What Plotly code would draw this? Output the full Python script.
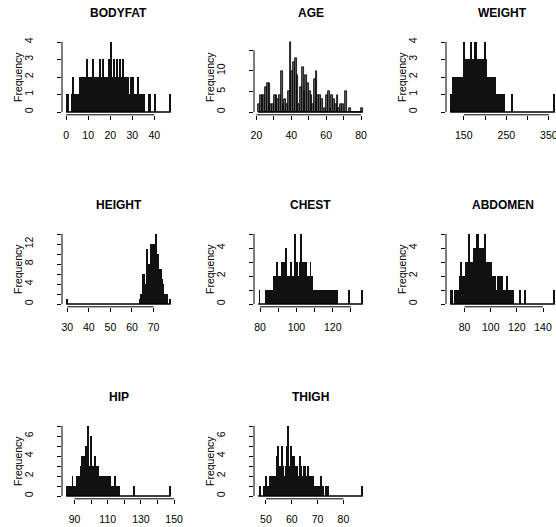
import numpy as np
import plotly.graph_objects as go

W, H = 556, 527

# ---------------- data (bin counts) ----------------
titles = ["BODYFAT", "AGE", "WEIGHT", "HEIGHT", "CHEST", "ABDOMEN", "HIP", "THIGH"]

bodyfat_start, bodyfat_width = 0.0, 0.5
bodyfat_counts = [1, 1, 0, 0, 0, 1, 2, 1, 1, 1, 1, 1, 2, 1, 2, 2, 1, 2, 3, 2,
                  2, 1, 2, 2, 3, 2, 1, 2, 2, 2, 3, 2, 2, 3, 2, 2, 1, 2, 3, 2,
                  4, 2, 2, 3, 2, 2, 3, 2, 3, 2, 2, 3, 2, 2, 1, 2, 2, 1, 2, 1,
                  2, 1, 1, 1, 1, 2, 1, 1, 1, 1, 1, 0, 0, 0, 0, 1, 1, 0, 0, 0,
                  1, 0, 0, 0, 0, 0, 0, 0, 0, 0, 0, 0, 0, 0, 1]

age_values = list(range(22, 82))
age_counts = [2, 4, 4, 4, 6, 7, 7, 2, 2, 4, 4, 3, 4, 10, 2, 3, 2, 5, 17, 10,
              12, 13, 9, 2, 6, 11, 5, 9, 7, 5, 4, 2, 8, 10, 4, 4, 3, 0, 1, 4,
              5, 1, 4, 3, 2, 4, 1, 2, 2, 0, 5, 0, 1, 0, 0, 0, 0, 0, 0, 1]
age_width = 1.0

weight_start, weight_width = 118.0, 2.0
weight_counts = [1, 1, 1, 2, 1, 2, 2, 1, 2, 2, 2, 1, 2, 2, 2, 2, 4, 3, 3, 3,
                 2, 3, 3, 3, 4, 2, 3, 2, 4, 3, 4, 3, 3, 2, 3, 3, 2, 3, 3, 3,
                 4, 3, 3, 2, 2, 2, 2, 1, 2, 2, 2, 2, 2, 1, 1, 1, 1, 1, 1, 1,
                 0, 1, 1, 1, 0, 0, 0, 0, 0, 0, 0, 0, 1, 0, 0, 0, 0, 0, 0, 0,
                 0, 0, 0, 0, 0, 0, 0, 0, 0, 0, 0, 0, 0, 0, 0, 0, 0, 0, 0, 0,
                 0, 0, 0, 0, 0, 0, 0, 0, 0, 0, 0, 0, 0, 0, 0, 0, 0, 0, 0, 0,
                 0, 0, 1]

height_start, height_width = 29.5, 0.5
height_counts = [1] + [0] * 67 + [1, 2, 2, 6, 6, 4, 11, 7, 8, 7, 12, 10, 12, 12,
                                  9, 14, 10, 10, 7, 7, 5, 4, 2, 2, 1, 2, 0, 0, 1]

chest_start, chest_width = 79.0, 0.5
chest_counts = [0, 1, 0, 0, 0, 0, 0, 0, 1, 0, 1, 1, 1, 1, 1, 1, 1, 2, 1, 2,
                3, 2, 2, 1, 2, 2, 3, 3, 2, 3, 4, 2, 1, 2, 2, 2, 3, 2, 2, 2,
                5, 2, 3, 1, 2, 3, 3, 5, 2, 3, 3, 2, 3, 2, 2, 2, 2, 3, 2, 2,
                1, 1, 1, 0, 1, 1, 1, 1, 0, 1, 1, 1, 1, 0, 1, 1, 1, 1, 1, 1,
                0, 1, 1, 1, 1, 0, 1, 0, 0, 0, 0, 0, 0, 0, 0, 0, 0, 0, 0, 1,
                0, 0, 0, 0, 0, 0, 0, 0, 0, 0, 0, 0, 0, 0, 1]

abdomen_start, abdomen_width = 69.0, 1.0
abdomen_counts = [1, 1, 0, 1, 1, 1, 1, 2, 3, 2, 2, 2, 3, 3, 5, 3, 3, 3, 4, 4,
                  5, 5, 4, 4, 3, 4, 5, 3, 3, 3, 3, 3, 2, 2, 2, 1, 2, 1, 2, 2,
                  1, 1, 1, 2, 1, 1, 1, 1, 1, 0, 0, 0, 0, 1, 0, 0, 0, 1, 0, 0,
                  0, 0, 0, 0, 0, 0, 0, 0, 0, 0, 0, 0, 0, 0, 0, 0, 0, 0, 0, 1]

hip_start, hip_width = 85.0, 0.5
hip_counts = [1, 0, 1, 1, 1, 1, 1, 2, 1, 1, 1, 1, 1, 2, 2, 1, 2, 3, 2, 4,
              3, 4, 3, 5, 3, 3, 7, 3, 3, 6, 5, 3, 3, 2, 4, 3, 2, 3, 3, 2,
              2, 1, 2, 2, 1, 2, 2, 1, 2, 1, 2, 1, 2, 1, 1, 1, 0, 1, 2, 1,
              1, 1, 1, 1, 0, 0, 0, 0, 0, 0, 0, 0, 0, 0, 0, 0, 0, 0, 0, 0,
              0, 1, 0, 0, 0, 0, 0, 0, 0, 0, 0, 0, 0, 0, 0, 0, 0, 0, 0, 0,
              0, 0, 0, 0, 0, 0, 0, 0, 0, 0, 0, 0, 0, 0, 0, 0, 0, 0, 0, 0,
              0, 0, 0, 0, 0, 1]

thigh_start, thigh_width = 47.0, 0.5
thigh_counts = [0, 1, 0, 0, 1, 1, 2, 1, 1, 2, 2, 1, 2, 2, 4, 5, 3, 3, 5, 3,
                2, 3, 5, 7, 3, 5, 4, 4, 3, 2, 3, 2, 4, 3, 2, 3, 3, 2, 3, 1,
                2, 2, 2, 1, 1, 1, 1, 1, 2, 1, 1, 0, 1, 0, 1, 0, 0, 0, 0, 0,
                0, 0, 0, 0, 0, 0, 0, 0, 0, 0, 0, 0, 0, 0, 0, 0, 0, 0, 0, 0,
                1]

# tick values / labels (labels R skipped are blank)
x_ticks = [
    ([0, 10, 20, 30, 40], ["0", "10", "20", "30", "40"]),
    ([20, 30, 40, 50, 60, 70, 80], ["20", "", "40", "", "60", "", "80"]),
    ([150, 200, 250, 300, 350], ["150", "", "250", "", "350"]),
    ([30, 40, 50, 60, 70], ["30", "40", "50", "60", "70"]),
    ([80, 90, 100, 110, 120, 130], ["80", "", "100", "", "120", ""]),
    ([80, 100, 120, 140], ["80", "100", "120", "140"]),
    ([90, 100, 110, 120, 130, 140, 150], ["90", "", "110", "", "130", "", "150"]),
    ([50, 60, 70, 80], ["50", "60", "70", "80"]),
]
y_ticks = [
    ([0, 1, 2, 3, 4], ["0", "1", "2", "3", "4"]),
    ([0, 5, 10, 15], ["0", "5", "10", ""]),
    ([0, 1, 2, 3, 4], ["0", "1", "2", "3", "4"]),
    ([0, 2, 4, 6, 8, 10, 12, 14], ["0", "", "4", "", "8", "", "12", ""]),
    ([0, 1, 2, 3, 4, 5], ["0", "", "2", "", "4", ""]),
    ([0, 1, 2, 3, 4, 5], ["0", "", "2", "", "4", ""]),
    ([0, 1, 2, 3, 4, 5, 6, 7], ["0", "", "2", "", "4", "", "6", ""]),
    ([0, 1, 2, 3, 4, 5, 6, 7], ["0", "", "2", "", "4", "", "6", ""]),
]

# ---------------- build bins ----------------
def regular(start, width, counts):
    counts = np.asarray(counts, float)
    lefts = start + width * np.arange(len(counts))
    return lefts + width / 2, counts, width, start, start + width * len(counts)

age_v = np.asarray(age_values, float)
bins = [
    regular(bodyfat_start, bodyfat_width, bodyfat_counts),
    (age_v - age_width / 2, np.asarray(age_counts, float), age_width,
     age_v.min() - age_width, age_v.max()),
    regular(weight_start, weight_width, weight_counts),
    regular(height_start, height_width, height_counts),
    regular(chest_start, chest_width, chest_counts),
    regular(abdomen_start, abdomen_width, abdomen_counts),
    regular(hip_start, hip_width, hip_counts),
    regular(thigh_start, thigh_width, thigh_counts),
]
# dense panels: bar outlines merge into solid black; AGE shows grey fill with black edges
fills = ["#111111", "#5c5c5c", "#111111", "#111111", "#111111", "#111111", "#111111", "#111111"]
edges = [0, 0.8, 0, 0, 0, 0, 0, 0]

FONT = "Liberation Sans, Arial, Helvetica, sans-serif"
CELL = 192.0
LEFT, PW = 62.0, 113.0
TOP, PH = 39.2, 75.6

fig = go.Figure()
layout = dict(width=W, height=H, margin=dict(l=0, r=0, t=0, b=0, autoexpand=False),
              paper_bgcolor="white", plot_bgcolor="white", showlegend=False,
              font=dict(family=FONT, color="black"))
shapes, annotations = [], []

for k, (centers, counts, width, lo_b, hi_b) in enumerate(bins):
    r, c = divmod(k, 3)
    ax = "" if k == 0 else str(k + 1)
    L = LEFT + CELL * c
    R = L + PW
    T = TOP + CELL * r
    B = T + PH
    span = hi_b - lo_b
    xlo, xhi = lo_b - 0.04 * span, hi_b + 0.04 * span
    if R > W:
        xhi = xlo + (xhi - xlo) * (W - L) / (R - L)
        R = W
    ymax = counts.max()
    ylo, yhi = -0.04 * ymax, ymax * 1.04

    fig.add_trace(go.Bar(x=centers, y=counts, width=width,
                         marker=dict(color=fills[k], line=dict(color="black", width=edges[k])),
                         xaxis="x" + ax, yaxis="y" + ax, hoverinfo="skip"))
    fig.add_trace(go.Scatter(x=[lo_b, hi_b], y=[0, 0], mode="lines",
                             line=dict(color="black", width=1.3),
                             xaxis="x" + ax, yaxis="y" + ax, hoverinfo="skip"))

    xt, xl = x_ticks[k]
    yt, yl = y_ticks[k]
    layout["xaxis" + ax] = dict(domain=[L / W, R / W], range=[xlo, xhi],
                                anchor="y" + ax, tickmode="array", tickvals=xt, ticktext=xl,
                                ticks="outside", ticklen=4, tickwidth=1, tickcolor="black",
                                showline=False, showgrid=False, zeroline=False, automargin=False,
                                ticklabeloverflow="allow",
                                tickfont=dict(size=10.5, family=FONT, color="black"),
                                ticklabelstandoff=7, fixedrange=True)
    layout["yaxis" + ax] = dict(domain=[1 - B / H, 1 - T / H], range=[ylo, yhi],
                                anchor="x" + ax, tickmode="array", tickvals=yt, ticktext=yl,
                                ticks="outside", ticklen=4, tickwidth=1, tickcolor="black",
                                showline=False, showgrid=False, zeroline=False, tickangle=-90,
                                automargin=False, ticklabeloverflow="allow",
                                tickfont=dict(size=10.5, family=FONT, color="black"),
                                ticklabelstandoff=20, fixedrange=True)
    shapes.append(dict(type="line", xref="x" + ax, yref="y" + ax + " domain",
                       x0=xt[0], x1=xt[-1], y0=0, y1=0, line=dict(color="black", width=1)))
    shapes.append(dict(type="line", xref="x" + ax + " domain", yref="y" + ax,
                       x0=0, x1=0, y0=yt[0], y1=yt[-1], line=dict(color="black", width=1)))
    annotations.append(dict(text="<b>%s</b>" % titles[k], xref="paper", yref="paper",
                            x=(LEFT + CELL * c + PW / 2) / W, y=1 - (T - 26) / H,
                            xanchor="center", yanchor="middle", showarrow=False,
                            font=dict(size=12, family=FONT, color="black")))
    annotations.append(dict(text="Frequency", xref="paper", yref="paper",
                            x=(L - 44) / W, y=1 - (T + PH / 2) / H, textangle=-90,
                            xanchor="center", yanchor="middle", showarrow=False,
                            font=dict(size=10.5, family=FONT, color="black")))

layout["shapes"] = shapes
layout["annotations"] = annotations
layout["bargap"] = 0
fig.update_layout(**layout)
fig.write_html("out.html", config={"displayModeBar": False},
               post_script="document.body.style.margin='0';document.body.style.overflow='hidden';")
